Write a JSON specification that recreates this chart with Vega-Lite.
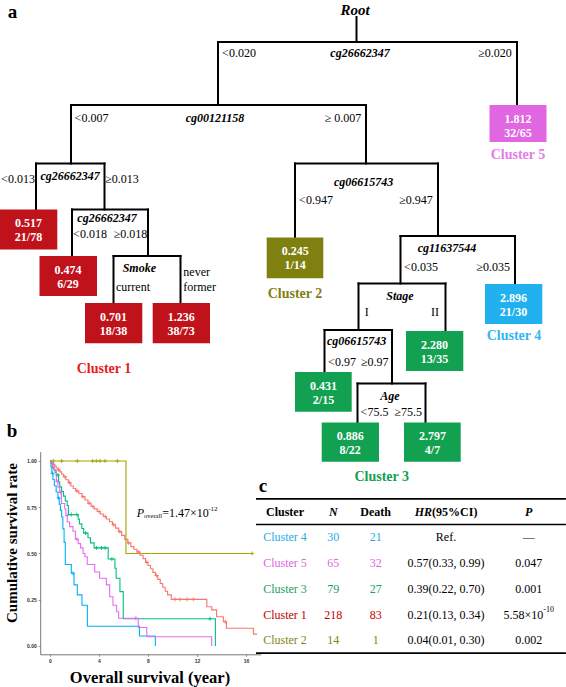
{
  "$schema": "https://vega.github.io/schema/vega-lite/v6.json",
  "width": 566,
  "height": 687,
  "autosize": {"type": "none"},
  "padding": 0,
  "background": "white",
  "config": {"view": {"stroke": null}, "font": "Liberation Serif"},
  "datasets": {
    "edges": [
      {"x": 356.5, "y": 17, "x2": 356.5, "y2": 42},
      {"x": 218, "y": 42, "x2": 517, "y2": 42},
      {"x": 218, "y": 42, "x2": 218, "y2": 105},
      {"x": 517, "y": 42, "x2": 517, "y2": 105},
      {"x": 71, "y": 105, "x2": 366, "y2": 105},
      {"x": 71, "y": 105, "x2": 71, "y2": 163.5},
      {"x": 366, "y": 105, "x2": 366, "y2": 163.5},
      {"x": 36, "y": 163.5, "x2": 104.5, "y2": 163.5},
      {"x": 36, "y": 163.5, "x2": 36, "y2": 209.5},
      {"x": 104.5, "y": 163.5, "x2": 104.5, "y2": 209.5},
      {"x": 72, "y": 209.5, "x2": 148, "y2": 209.5},
      {"x": 72, "y": 209.5, "x2": 72, "y2": 256},
      {"x": 148, "y": 209.5, "x2": 148, "y2": 256},
      {"x": 113.5, "y": 256, "x2": 180.5, "y2": 256},
      {"x": 113.5, "y": 256, "x2": 113.5, "y2": 303},
      {"x": 180.5, "y": 256, "x2": 180.5, "y2": 303},
      {"x": 295, "y": 163.5, "x2": 438, "y2": 163.5},
      {"x": 295, "y": 163.5, "x2": 295, "y2": 237.5},
      {"x": 438, "y": 163.5, "x2": 438, "y2": 236},
      {"x": 400.5, "y": 236, "x2": 515, "y2": 236},
      {"x": 400.5, "y": 236, "x2": 400.5, "y2": 283.5},
      {"x": 515, "y": 236, "x2": 515, "y2": 284},
      {"x": 358.5, "y": 283.5, "x2": 445.5, "y2": 283.5},
      {"x": 358.5, "y": 283.5, "x2": 358.5, "y2": 330},
      {"x": 445.5, "y": 283.5, "x2": 445.5, "y2": 331},
      {"x": 324.5, "y": 330, "x2": 392, "y2": 330},
      {"x": 324.5, "y": 330, "x2": 324.5, "y2": 372},
      {"x": 392, "y": 330, "x2": 392, "y2": 383.5},
      {"x": 357.5, "y": 383.5, "x2": 425.5, "y2": 383.5},
      {"x": 357.5, "y": 383.5, "x2": 357.5, "y2": 422.5},
      {"x": 425.5, "y": 383.5, "x2": 425.5, "y2": 422.5}
    ],
    "boxes": [
      {"cluster": "Cluster 5", "hr": "1.812", "ratio": "32/65", "x": 489.5, "y": 105, "x2": 546.5, "y2": 142},
      {"cluster": "Cluster 1", "hr": "0.517", "ratio": "21/78", "x": 0, "y": 209.5, "x2": 57.3, "y2": 249.5},
      {"cluster": "Cluster 1", "hr": "0.474", "ratio": "6/29", "x": 39.5, "y": 256, "x2": 97, "y2": 296},
      {"cluster": "Cluster 1", "hr": "0.701", "ratio": "18/38", "x": 85, "y": 303, "x2": 142.3, "y2": 343.3},
      {"cluster": "Cluster 1", "hr": "1.236", "ratio": "38/73", "x": 152.7, "y": 303, "x2": 210, "y2": 343.3},
      {"cluster": "Cluster 2", "hr": "0.245", "ratio": "1/14", "x": 266.7, "y": 237.5, "x2": 323.3, "y2": 278.3},
      {"cluster": "Cluster 4", "hr": "2.896", "ratio": "21/30", "x": 485, "y": 284, "x2": 542.3, "y2": 324},
      {"cluster": "Cluster 3", "hr": "2.280", "ratio": "13/35", "x": 406, "y": 331, "x2": 463.3, "y2": 371},
      {"cluster": "Cluster 3", "hr": "0.431", "ratio": "2/15", "x": 295, "y": 372, "x2": 351.7, "y2": 411.7},
      {"cluster": "Cluster 3", "hr": "0.886", "ratio": "8/22", "x": 321.7, "y": 422.5, "x2": 379, "y2": 461.7},
      {"cluster": "Cluster 3", "hr": "2.797", "ratio": "4/7", "x": 404, "y": 422.5, "x2": 460.7, "y2": 461.7}
    ],
    "nodes": [
      {"label": "Root", "x": 355, "y": 9.5},
      {"label": "cg26662347", "x": 360, "y": 52.7},
      {"label": "cg00121158", "x": 215, "y": 117.5},
      {"label": "cg26662347", "x": 70.2, "y": 175.7},
      {"label": "cg26662347", "x": 107, "y": 218.3},
      {"label": "Smoke", "x": 139.3, "y": 268.3},
      {"label": "cg06615743", "x": 363.6, "y": 181.7},
      {"label": "cg11637544", "x": 447, "y": 248.3},
      {"label": "Stage", "x": 400, "y": 295.7},
      {"label": "cg06615743", "x": 356.7, "y": 341},
      {"label": "Age", "x": 390, "y": 396}
    ],
    "splits": [
      {"label": "<0.020", "x": 239, "y": 52.7},
      {"label": "≥0.020", "x": 495, "y": 52.7},
      {"label": "<0.007", "x": 91.5, "y": 117.5},
      {"label": "≥ 0.007", "x": 343, "y": 117.5},
      {"label": "<0.013", "x": 18, "y": 179.3},
      {"label": "≥0.013", "x": 122, "y": 179.3},
      {"label": "<0.018", "x": 90, "y": 234},
      {"label": "≥0.018", "x": 130.5, "y": 234},
      {"label": "current", "x": 133, "y": 286.7},
      {"label": "never", "x": 196.7, "y": 272.3},
      {"label": "former", "x": 199.6, "y": 286.7},
      {"label": "<0.947", "x": 316, "y": 200},
      {"label": "≥0.947", "x": 416, "y": 200},
      {"label": "<0.035", "x": 421, "y": 267.3},
      {"label": "≥0.035", "x": 493.3, "y": 267.3},
      {"label": "I", "x": 366.7, "y": 311.7},
      {"label": "II", "x": 435, "y": 311.7},
      {"label": "<0.97", "x": 342, "y": 361.7},
      {"label": "≥0.97", "x": 374.7, "y": 361.7},
      {"label": "<75.5", "x": 374.5, "y": 412.3},
      {"label": "≥75.5", "x": 408.3, "y": 412.3}
    ],
    "clusterLabels": [
      {"cluster": "Cluster 1", "x": 104, "y": 369.3},
      {"cluster": "Cluster 2", "x": 295, "y": 293.8},
      {"cluster": "Cluster 3", "x": 381.7, "y": 477},
      {"cluster": "Cluster 4", "x": 514, "y": 336},
      {"cluster": "Cluster 5", "x": 518, "y": 155}
    ],
    "panels": [
      {"label": "a", "x": 12.6, "y": 17.5},
      {"label": "b", "x": 12, "y": 436.5},
      {"label": "c", "x": 263, "y": 491.5}
    ],
    "axisTitles": [
      {"label": "Cumulative survival rate", "x": 12, "y": 543},
      {"label": "Overall survival (year)", "x": 150, "y": 678}
    ],
    "kmCurves": [
      {"cluster": "Cluster 2", "t": 0, "s": 1},
      {"cluster": "Cluster 2", "t": 6.2, "s": 0.5},
      {"cluster": "Cluster 2", "t": 16.5, "s": 0.5},

      {"cluster": "Cluster 1", "t": 0, "s": 1},
      {"cluster": "Cluster 1", "t": 0.1, "s": 0.991},
      {"cluster": "Cluster 1", "t": 0.2, "s": 0.982},
      {"cluster": "Cluster 1", "t": 0.35, "s": 0.972},
      {"cluster": "Cluster 1", "t": 0.5, "s": 0.962},
      {"cluster": "Cluster 1", "t": 0.65, "s": 0.952},
      {"cluster": "Cluster 1", "t": 0.8, "s": 0.941},
      {"cluster": "Cluster 1", "t": 0.95, "s": 0.928},
      {"cluster": "Cluster 1", "t": 1.1, "s": 0.915},
      {"cluster": "Cluster 1", "t": 1.3, "s": 0.898},
      {"cluster": "Cluster 1", "t": 1.5, "s": 0.882},
      {"cluster": "Cluster 1", "t": 1.7, "s": 0.865},
      {"cluster": "Cluster 1", "t": 1.9, "s": 0.851},
      {"cluster": "Cluster 1", "t": 2.1, "s": 0.838},
      {"cluster": "Cluster 1", "t": 2.35, "s": 0.824},
      {"cluster": "Cluster 1", "t": 2.6, "s": 0.807},
      {"cluster": "Cluster 1", "t": 2.85, "s": 0.789},
      {"cluster": "Cluster 1", "t": 3.1, "s": 0.771},
      {"cluster": "Cluster 1", "t": 3.35, "s": 0.754},
      {"cluster": "Cluster 1", "t": 3.6, "s": 0.741},
      {"cluster": "Cluster 1", "t": 3.85, "s": 0.727},
      {"cluster": "Cluster 1", "t": 4.1, "s": 0.713},
      {"cluster": "Cluster 1", "t": 4.35, "s": 0.7},
      {"cluster": "Cluster 1", "t": 4.6, "s": 0.686},
      {"cluster": "Cluster 1", "t": 4.85, "s": 0.671},
      {"cluster": "Cluster 1", "t": 5.1, "s": 0.655},
      {"cluster": "Cluster 1", "t": 5.35, "s": 0.637},
      {"cluster": "Cluster 1", "t": 5.6, "s": 0.618},
      {"cluster": "Cluster 1", "t": 5.85, "s": 0.598},
      {"cluster": "Cluster 1", "t": 6.1, "s": 0.576},
      {"cluster": "Cluster 1", "t": 6.35, "s": 0.557},
      {"cluster": "Cluster 1", "t": 6.6, "s": 0.537},
      {"cluster": "Cluster 1", "t": 6.85, "s": 0.523},
      {"cluster": "Cluster 1", "t": 7.1, "s": 0.508},
      {"cluster": "Cluster 1", "t": 7.35, "s": 0.49},
      {"cluster": "Cluster 1", "t": 7.6, "s": 0.472},
      {"cluster": "Cluster 1", "t": 7.8, "s": 0.452},
      {"cluster": "Cluster 1", "t": 8.0, "s": 0.435},
      {"cluster": "Cluster 1", "t": 8.2, "s": 0.417},
      {"cluster": "Cluster 1", "t": 8.4, "s": 0.398},
      {"cluster": "Cluster 1", "t": 8.6, "s": 0.381},
      {"cluster": "Cluster 1", "t": 8.8, "s": 0.36},
      {"cluster": "Cluster 1", "t": 9.0, "s": 0.338},
      {"cluster": "Cluster 1", "t": 9.2, "s": 0.317},
      {"cluster": "Cluster 1", "t": 9.4, "s": 0.296},
      {"cluster": "Cluster 1", "t": 9.6, "s": 0.276},
      {"cluster": "Cluster 1", "t": 9.9, "s": 0.252},
      {"cluster": "Cluster 1", "t": 12.8, "s": 0.212},
      {"cluster": "Cluster 1", "t": 13.2, "s": 0.195},
      {"cluster": "Cluster 1", "t": 13.6, "s": 0.158},
      {"cluster": "Cluster 1", "t": 14.15, "s": 0.131},
      {"cluster": "Cluster 1", "t": 14.4, "s": 0.096},
      {"cluster": "Cluster 1", "t": 16.6, "s": 0.064},
      {"cluster": "Cluster 1", "t": 16.9, "s": 0.064},

      {"cluster": "Cluster 3", "t": 0, "s": 1},
      {"cluster": "Cluster 3", "t": 0.1, "s": 0.987},
      {"cluster": "Cluster 3", "t": 0.2, "s": 0.962},
      {"cluster": "Cluster 3", "t": 0.35, "s": 0.949},
      {"cluster": "Cluster 3", "t": 0.5, "s": 0.924},
      {"cluster": "Cluster 3", "t": 0.7, "s": 0.886},
      {"cluster": "Cluster 3", "t": 0.8, "s": 0.86},
      {"cluster": "Cluster 3", "t": 0.95, "s": 0.835},
      {"cluster": "Cluster 3", "t": 1.1, "s": 0.81},
      {"cluster": "Cluster 3", "t": 1.25, "s": 0.784},
      {"cluster": "Cluster 3", "t": 1.4, "s": 0.759},
      {"cluster": "Cluster 3", "t": 1.5, "s": 0.71},
      {"cluster": "Cluster 3", "t": 2.3, "s": 0.685},
      {"cluster": "Cluster 3", "t": 2.4, "s": 0.66},
      {"cluster": "Cluster 3", "t": 2.6, "s": 0.635},
      {"cluster": "Cluster 3", "t": 2.75, "s": 0.61},
      {"cluster": "Cluster 3", "t": 3.1, "s": 0.585},
      {"cluster": "Cluster 3", "t": 3.3, "s": 0.557},
      {"cluster": "Cluster 3", "t": 3.6, "s": 0.53},
      {"cluster": "Cluster 3", "t": 4.75, "s": 0.47},
      {"cluster": "Cluster 3", "t": 5.3, "s": 0.42},
      {"cluster": "Cluster 3", "t": 5.4, "s": 0.366},
      {"cluster": "Cluster 3", "t": 5.71, "s": 0.294},
      {"cluster": "Cluster 3", "t": 5.98, "s": 0.147},
      {"cluster": "Cluster 3", "t": 13.5, "s": 0},

      {"cluster": "Cluster 4", "t": 0, "s": 1},
      {"cluster": "Cluster 4", "t": 0.08, "s": 0.967},
      {"cluster": "Cluster 4", "t": 0.15, "s": 0.933},
      {"cluster": "Cluster 4", "t": 0.24, "s": 0.9},
      {"cluster": "Cluster 4", "t": 0.35, "s": 0.866},
      {"cluster": "Cluster 4", "t": 0.5, "s": 0.832},
      {"cluster": "Cluster 4", "t": 0.65, "s": 0.8},
      {"cluster": "Cluster 4", "t": 0.75, "s": 0.766},
      {"cluster": "Cluster 4", "t": 0.85, "s": 0.733},
      {"cluster": "Cluster 4", "t": 0.95, "s": 0.697},
      {"cluster": "Cluster 4", "t": 1.05, "s": 0.633},
      {"cluster": "Cluster 4", "t": 1.15, "s": 0.56},
      {"cluster": "Cluster 4", "t": 1.25, "s": 0.44},
      {"cluster": "Cluster 4", "t": 1.74, "s": 0.393},
      {"cluster": "Cluster 4", "t": 1.96, "s": 0.33},
      {"cluster": "Cluster 4", "t": 2.23, "s": 0.276},
      {"cluster": "Cluster 4", "t": 2.61, "s": 0.22},
      {"cluster": "Cluster 4", "t": 3.05, "s": 0.107},
      {"cluster": "Cluster 4", "t": 7.3, "s": 0.054},
      {"cluster": "Cluster 4", "t": 8.6, "s": 0},

      {"cluster": "Cluster 5", "t": 0, "s": 1},
      {"cluster": "Cluster 5", "t": 0.1, "s": 0.985},
      {"cluster": "Cluster 5", "t": 0.2, "s": 0.969},
      {"cluster": "Cluster 5", "t": 0.3, "s": 0.954},
      {"cluster": "Cluster 5", "t": 0.4, "s": 0.938},
      {"cluster": "Cluster 5", "t": 0.52, "s": 0.889},
      {"cluster": "Cluster 5", "t": 0.65, "s": 0.858},
      {"cluster": "Cluster 5", "t": 0.79, "s": 0.83},
      {"cluster": "Cluster 5", "t": 0.93, "s": 0.77},
      {"cluster": "Cluster 5", "t": 1.2, "s": 0.74},
      {"cluster": "Cluster 5", "t": 1.3, "s": 0.705},
      {"cluster": "Cluster 5", "t": 1.41, "s": 0.67},
      {"cluster": "Cluster 5", "t": 1.6, "s": 0.645},
      {"cluster": "Cluster 5", "t": 1.88, "s": 0.62},
      {"cluster": "Cluster 5", "t": 2.07, "s": 0.577},
      {"cluster": "Cluster 5", "t": 2.3, "s": 0.553},
      {"cluster": "Cluster 5", "t": 2.5, "s": 0.53},
      {"cluster": "Cluster 5", "t": 2.7, "s": 0.5},
      {"cluster": "Cluster 5", "t": 2.85, "s": 0.482},
      {"cluster": "Cluster 5", "t": 3.04, "s": 0.44},
      {"cluster": "Cluster 5", "t": 3.65, "s": 0.4},
      {"cluster": "Cluster 5", "t": 4.05, "s": 0.366},
      {"cluster": "Cluster 5", "t": 4.6, "s": 0.33},
      {"cluster": "Cluster 5", "t": 4.87, "s": 0.266},
      {"cluster": "Cluster 5", "t": 5.14, "s": 0.22},
      {"cluster": "Cluster 5", "t": 5.44, "s": 0.185},
      {"cluster": "Cluster 5", "t": 5.6, "s": 0.15},
      {"cluster": "Cluster 5", "t": 7.2, "s": 0.1},
      {"cluster": "Cluster 5", "t": 7.9, "s": 0.05},
      {"cluster": "Cluster 5", "t": 13.2, "s": 0}
    ],
    "kmCensor": [
      {"cluster": "Cluster 2", "t": 0.27, "s": 1},
      {"cluster": "Cluster 2", "t": 0.95, "s": 1},
      {"cluster": "Cluster 2", "t": 2.23, "s": 1},
      {"cluster": "Cluster 2", "t": 3.48, "s": 1},
      {"cluster": "Cluster 2", "t": 3.78, "s": 1},
      {"cluster": "Cluster 2", "t": 4.08, "s": 1},
      {"cluster": "Cluster 2", "t": 4.49, "s": 1},
      {"cluster": "Cluster 2", "t": 5.5, "s": 1},
      {"cluster": "Cluster 2", "t": 16.5, "s": 0.5},
      {"cluster": "Cluster 1", "t": 0.3, "s": 0.982},
      {"cluster": "Cluster 1", "t": 0.7, "s": 0.952},
      {"cluster": "Cluster 1", "t": 1.2, "s": 0.915},
      {"cluster": "Cluster 1", "t": 1.6, "s": 0.882},
      {"cluster": "Cluster 1", "t": 2.2, "s": 0.838},
      {"cluster": "Cluster 1", "t": 2.7, "s": 0.807},
      {"cluster": "Cluster 1", "t": 3.2, "s": 0.771},
      {"cluster": "Cluster 1", "t": 3.5, "s": 0.754},
      {"cluster": "Cluster 1", "t": 4.0, "s": 0.727},
      {"cluster": "Cluster 1", "t": 4.5, "s": 0.7},
      {"cluster": "Cluster 1", "t": 5.2, "s": 0.655},
      {"cluster": "Cluster 1", "t": 5.7, "s": 0.618},
      {"cluster": "Cluster 1", "t": 6.4, "s": 0.557},
      {"cluster": "Cluster 1", "t": 7.2, "s": 0.508},
      {"cluster": "Cluster 1", "t": 7.9, "s": 0.452},
      {"cluster": "Cluster 1", "t": 8.7, "s": 0.381},
      {"cluster": "Cluster 1", "t": 10.2, "s": 0.252},
      {"cluster": "Cluster 1", "t": 10.6, "s": 0.252},
      {"cluster": "Cluster 1", "t": 11.2, "s": 0.252},
      {"cluster": "Cluster 1", "t": 11.7, "s": 0.252},
      {"cluster": "Cluster 1", "t": 14.3, "s": 0.131},
      {"cluster": "Cluster 3", "t": 0.65, "s": 0.924},
      {"cluster": "Cluster 3", "t": 1.74, "s": 0.71},
      {"cluster": "Cluster 3", "t": 2.2, "s": 0.71},
      {"cluster": "Cluster 3", "t": 2.9, "s": 0.61},
      {"cluster": "Cluster 3", "t": 3.8, "s": 0.53},
      {"cluster": "Cluster 3", "t": 4.2, "s": 0.53},
      {"cluster": "Cluster 3", "t": 4.5, "s": 0.53},
      {"cluster": "Cluster 3", "t": 5.05, "s": 0.47},
      {"cluster": "Cluster 3", "t": 13.06, "s": 0.147},
      {"cluster": "Cluster 4", "t": 0.2, "s": 0.933},
      {"cluster": "Cluster 4", "t": 0.7, "s": 0.8},
      {"cluster": "Cluster 4", "t": 1.88, "s": 0.393},
      {"cluster": "Cluster 5", "t": 0.6, "s": 0.889},
      {"cluster": "Cluster 5", "t": 0.85, "s": 0.83},
      {"cluster": "Cluster 5", "t": 1.41, "s": 0.705},
      {"cluster": "Cluster 5", "t": 2.2, "s": 0.577},
      {"cluster": "Cluster 5", "t": 7.0, "s": 0.15}
    ],
    "kmNote": [
      {"t": 7.08, "s": 0.717, "p": "P", "sub": "overall", "val": "=1.47×10", "exp": "-12"}
    ],
    "table": [
      {"cluster": "Cluster 4", "N": 30, "Death": 21, "HR": "Ref.", "P": "—", "Pexp": "", "rank": 1},
      {"cluster": "Cluster 5", "N": 65, "Death": 32, "HR": "0.57(0.33, 0.99)", "P": "0.047", "Pexp": "", "rank": 2},
      {"cluster": "Cluster 3", "N": 79, "Death": 27, "HR": "0.39(0.22, 0.70)", "P": "0.001", "Pexp": "", "rank": 3},
      {"cluster": "Cluster 1", "N": 218, "Death": 83, "HR": "0.21(0.13, 0.34)", "P": "5.58×10", "Pexp": "-10", "rank": 4},
      {"cluster": "Cluster 2", "N": 14, "Death": 1, "HR": "0.04(0.01, 0.30)", "P": "0.002", "Pexp": "", "rank": 5}
    ],
    "header": [
      {"label": "Cluster", "pos": 0, "rank": 0},
      {"label": "N", "pos": 1, "rank": 0},
      {"label": "Death", "pos": 2, "rank": 0},
      {"label": "HR", "pos": 3, "rank": 0},
      {"label": "(95%CI)", "pos": 3, "rank": 0},
      {"label": "P", "pos": 4, "rank": 0}
    ],
    "tableRules": [{"rank": -0.5}, {"rank": 0.5}, {"rank": 5.5}]
  },
  "layer": [
    {
      "encoding": {
        "x": {"field": "x", "type": "quantitative", "scale": {"domain": [0, 566], "range": [0, 566], "nice": false, "zero": false}, "axis": null},
        "y": {"field": "y", "type": "quantitative", "scale": {"domain": [0, 687], "range": [0, 687], "nice": false, "zero": false}, "axis": null}
      },
      "layer": [
        {"data": {"name": "edges"}, "mark": {"type": "rule", "color": "black", "strokeWidth": 2, "strokeCap": "square"},
         "encoding": {"x2": {"field": "x2"}, "y2": {"field": "y2"}}},
        {"data": {"name": "boxes"}, "mark": {"type": "rect"},
         "encoding": {"x2": {"field": "x2"}, "y2": {"field": "y2"},
           "fill": {"field": "cluster", "type": "nominal", "legend": null,
             "scale": {"domain": ["Cluster 1", "Cluster 2", "Cluster 3", "Cluster 4", "Cluster 5"], "range": ["#C0121B", "#808010", "#12A150", "#21B1EE", "#E066E2"]}}}},
        {"data": {"name": "boxes"}, "mark": {"type": "text", "font": "Liberation Serif", "fontSize": 12, "fontWeight": "bold", "color": "white", "dx": 28.5, "dy": 13.5},
         "encoding": {"text": {"field": "hr"}}},
        {"data": {"name": "boxes"}, "mark": {"type": "text", "font": "Liberation Serif", "fontSize": 12, "fontWeight": "bold", "color": "white", "dx": 28.5, "dy": 27.5},
         "encoding": {"text": {"field": "ratio"}}},
        {"data": {"name": "nodes"}, "transform": [{"filter": "datum.label !== 'Root'"}],
         "mark": {"type": "text", "font": "Liberation Serif", "fontSize": 12, "fontWeight": "bold", "fontStyle": "italic", "color": "black"},
         "encoding": {"text": {"field": "label"}}},
        {"data": {"name": "nodes"}, "transform": [{"filter": "datum.label === 'Root'"}],
         "mark": {"type": "text", "font": "Liberation Serif", "fontSize": 15, "fontWeight": "bold", "fontStyle": "italic", "color": "black"},
         "encoding": {"text": {"field": "label"}}},
        {"data": {"name": "splits"}, "mark": {"type": "text", "font": "Liberation Serif", "fontSize": 12, "color": "black"},
         "encoding": {"text": {"field": "label"}}},
        {"data": {"name": "clusterLabels"}, "mark": {"type": "text", "font": "Liberation Serif", "fontSize": 14, "fontWeight": "bold"},
         "encoding": {"text": {"field": "cluster"},
           "color": {"field": "cluster", "type": "nominal", "legend": null,
             "scale": {"domain": ["Cluster 1", "Cluster 2", "Cluster 3", "Cluster 4", "Cluster 5"], "range": ["#E81C1C", "#808010", "#12A150", "#35B5F0", "#E57BE6"]}}}},
        {"data": {"name": "panels"}, "mark": {"type": "text", "font": "Liberation Serif", "fontSize": 19, "fontWeight": "bold", "baseline": "alphabetic", "color": "black"},
         "encoding": {"text": {"field": "label"}}},
        {"data": {"name": "axisTitles"}, "transform": [{"filter": "datum.label === 'Cumulative survival rate'"}],
         "mark": {"type": "text", "font": "Liberation Serif", "fontSize": 15, "fontWeight": "bold", "angle": 270, "color": "black"},
         "encoding": {"text": {"field": "label"}}},
        {"data": {"name": "axisTitles"}, "transform": [{"filter": "datum.label === 'Overall survival (year)'"}],
         "mark": {"type": "text", "font": "Liberation Serif", "fontSize": 16.5, "fontWeight": "bold", "color": "black"},
         "encoding": {"text": {"field": "label"}}}
      ]
    },
    {
      "encoding": {
        "x": {"field": "t", "type": "quantitative",
          "scale": {"domain": [-0.8, 17.2], "range": [40.2, 260.7], "nice": false, "zero": false},
          "axis": {"orient": "bottom", "offset": -32.7, "values": [0, 4, 8, 12, 16], "title": null, "grid": false,
            "domainColor": "#555", "domainWidth": 0.8, "tickColor": "#555", "tickWidth": 0.6, "tickSize": 2,
            "labelFont": "Liberation Sans", "labelFontSize": 5, "labelFontWeight": "bold", "labelPadding": 2, "labelColor": "#333",
            "labelFlush": false, "labelOverlap": false}},
        "y": {"field": "s", "type": "quantitative",
          "scale": {"domain": [-0.045, 1.05], "range": [654.3, 451.7], "nice": false, "zero": false},
          "axis": {"orient": "left", "offset": -40.2, "values": [0, 0.25, 0.5, 0.75, 1], "format": ".2f", "title": null, "grid": false,
            "domainColor": "#555", "domainWidth": 0.8, "tickColor": "#555", "tickWidth": 0.6, "tickSize": 2,
            "labelFont": "Liberation Sans", "labelFontSize": 5, "labelFontWeight": "bold", "labelPadding": 2, "labelColor": "#333",
            "labelFlush": false, "labelOverlap": false}}
      },
      "layer": [
        {"data": {"name": "kmCurves"}, "mark": {"type": "line", "interpolate": "step-after", "strokeWidth": 1.1},
         "encoding": {"color": {"field": "cluster", "type": "nominal", "legend": null,
           "scale": {"domain": ["Cluster 1", "Cluster 2", "Cluster 3", "Cluster 4", "Cluster 5"], "range": ["#F8766D", "#A3A500", "#00BF7D", "#00B0F6", "#E76BF3"]}}}},
        {"data": {"name": "kmCensor"}, "mark": {"type": "point", "shape": "M-1,0H1M0,-1V1", "size": 16, "filled": false, "strokeWidth": 0.9, "opacity": 1},
         "encoding": {"color": {"field": "cluster", "type": "nominal", "legend": null,
           "scale": {"domain": ["Cluster 1", "Cluster 2", "Cluster 3", "Cluster 4", "Cluster 5"], "range": ["#F8766D", "#A3A500", "#00BF7D", "#00B0F6", "#E76BF3"]}}}},
        {"data": {"name": "kmNote"}, "mark": {"type": "text", "align": "left", "font": "Liberation Serif", "fontSize": 12, "fontStyle": "italic", "color": "black"},
         "encoding": {"text": {"field": "p"}}},
        {"data": {"name": "kmNote"}, "mark": {"type": "text", "align": "left", "font": "Liberation Serif", "fontSize": 6.5, "color": "black", "dx": 7.3, "dy": 3},
         "encoding": {"text": {"field": "sub"}}},
        {"data": {"name": "kmNote"}, "mark": {"type": "text", "align": "left", "font": "Liberation Serif", "fontSize": 12, "color": "black", "dx": 25.5},
         "encoding": {"text": {"field": "val"}}},
        {"data": {"name": "kmNote"}, "mark": {"type": "text", "align": "left", "font": "Liberation Serif", "fontSize": 7, "color": "black", "dx": 71.5, "dy": -4},
         "encoding": {"text": {"field": "exp"}}}
      ]
    },
    {
      "encoding": {
        "y": {"field": "rank", "type": "quantitative", "scale": {"domain": [0, 5], "range": [511.7, 640.3], "nice": false, "zero": false}, "axis": null}
      },
      "layer": [
        {"data": {"name": "tableRules"}, "mark": {"type": "rule", "color": "black", "strokeWidth": 1.6},
         "encoding": {"x": {"datum": -0.6, "type": "quantitative", "axis": null, "scale": {"domain": [0, 1, 2, 3, 4], "range": [285, 333.3, 375.7, 446, 528.7], "nice": false, "zero": false}},
           "x2": {"datum": 4.45}}},
        {"data": {"name": "header"}, "transform": [{"filter": {"field": "label", "oneOf": ["Cluster", "Death"]}}],
         "mark": {"type": "text", "font": "Liberation Serif", "fontSize": 12, "fontWeight": "bold", "color": "black"},
         "encoding": {"x": {"field": "pos", "type": "quantitative", "axis": null, "scale": {"domain": [0, 1, 2, 3, 4], "range": [285, 333.3, 375.7, 446, 528.7], "nice": false, "zero": false}},
           "text": {"field": "label"}}},
        {"data": {"name": "header"}, "transform": [{"filter": {"field": "label", "oneOf": ["N", "P"]}}],
         "mark": {"type": "text", "font": "Liberation Serif", "fontSize": 12, "fontWeight": "bold", "fontStyle": "italic", "color": "black"},
         "encoding": {"x": {"field": "pos", "type": "quantitative", "axis": null, "scale": {"domain": [0, 1, 2, 3, 4], "range": [285, 333.3, 375.7, 446, 528.7], "nice": false, "zero": false}},
           "text": {"field": "label"}}},
        {"data": {"name": "header"}, "transform": [{"filter": {"field": "label", "equal": "HR"}}],
         "mark": {"type": "text", "font": "Liberation Serif", "fontSize": 12, "fontWeight": "bold", "fontStyle": "italic", "color": "black", "dx": -22.6},
         "encoding": {"x": {"field": "pos", "type": "quantitative", "axis": null, "scale": {"domain": [0, 1, 2, 3, 4], "range": [285, 333.3, 375.7, 446, 528.7], "nice": false, "zero": false}},
           "text": {"field": "label"}}},
        {"data": {"name": "header"}, "transform": [{"filter": {"field": "label", "equal": "(95%CI)"}}],
         "mark": {"type": "text", "font": "Liberation Serif", "fontSize": 12, "fontWeight": "bold", "color": "black", "dx": 8.7},
         "encoding": {"x": {"field": "pos", "type": "quantitative", "axis": null, "scale": {"domain": [0, 1, 2, 3, 4], "range": [285, 333.3, 375.7, 446, 528.7], "nice": false, "zero": false}},
           "text": {"field": "label"}}},
        {"data": {"name": "table"}, "mark": {"type": "text", "font": "Liberation Serif", "fontSize": 12},
         "encoding": {"x": {"datum": 0, "type": "quantitative", "axis": null, "scale": {"domain": [0, 1, 2, 3, 4], "range": [285, 333.3, 375.7, 446, 528.7], "nice": false, "zero": false}},
           "text": {"field": "cluster"},
           "color": {"field": "cluster", "type": "nominal", "legend": null,
             "scale": {"domain": ["Cluster 1", "Cluster 2", "Cluster 3", "Cluster 4", "Cluster 5"], "range": ["#C00000", "#858515", "#18A35A", "#2AABE3", "#E067E0"]}}}},
        {"data": {"name": "table"}, "mark": {"type": "text", "font": "Liberation Serif", "fontSize": 12},
         "encoding": {"x": {"datum": 1, "type": "quantitative", "axis": null, "scale": {"domain": [0, 1, 2, 3, 4], "range": [285, 333.3, 375.7, 446, 528.7], "nice": false, "zero": false}},
           "text": {"field": "N"},
           "color": {"field": "cluster", "type": "nominal", "legend": null,
             "scale": {"domain": ["Cluster 1", "Cluster 2", "Cluster 3", "Cluster 4", "Cluster 5"], "range": ["#C00000", "#858515", "#18A35A", "#2AABE3", "#E067E0"]}}}},
        {"data": {"name": "table"}, "mark": {"type": "text", "font": "Liberation Serif", "fontSize": 12},
         "encoding": {"x": {"datum": 2, "type": "quantitative", "axis": null, "scale": {"domain": [0, 1, 2, 3, 4], "range": [285, 333.3, 375.7, 446, 528.7], "nice": false, "zero": false}},
           "text": {"field": "Death"},
           "color": {"field": "cluster", "type": "nominal", "legend": null,
             "scale": {"domain": ["Cluster 1", "Cluster 2", "Cluster 3", "Cluster 4", "Cluster 5"], "range": ["#C00000", "#858515", "#18A35A", "#2AABE3", "#E067E0"]}}}},
        {"data": {"name": "table"}, "mark": {"type": "text", "font": "Liberation Serif", "fontSize": 12, "color": "black"},
         "encoding": {"x": {"datum": 3, "type": "quantitative", "axis": null, "scale": {"domain": [0, 1, 2, 3, 4], "range": [285, 333.3, 375.7, 446, 528.7], "nice": false, "zero": false}},
           "text": {"field": "HR"}}},
        {"data": {"name": "table"}, "transform": [{"filter": "datum.Pexp === ''"}],
         "mark": {"type": "text", "font": "Liberation Serif", "fontSize": 12, "color": "black"},
         "encoding": {"x": {"datum": 4, "type": "quantitative", "axis": null, "scale": {"domain": [0, 1, 2, 3, 4], "range": [285, 333.3, 375.7, 446, 528.7], "nice": false, "zero": false}},
           "text": {"field": "P"}}},
        {"data": {"name": "table"}, "transform": [{"filter": "datum.Pexp !== ''"}],
         "mark": {"type": "text", "font": "Liberation Serif", "fontSize": 12, "color": "black", "dx": -5.4},
         "encoding": {"x": {"datum": 4, "type": "quantitative", "axis": null, "scale": {"domain": [0, 1, 2, 3, 4], "range": [285, 333.3, 375.7, 446, 528.7], "nice": false, "zero": false}},
           "text": {"field": "P"}}},
        {"data": {"name": "table"}, "transform": [{"filter": "datum.Pexp !== ''"}],
         "mark": {"type": "text", "font": "Liberation Serif", "fontSize": 8, "color": "black", "dx": 20, "dy": -4.5},
         "encoding": {"x": {"datum": 4, "type": "quantitative", "axis": null, "scale": {"domain": [0, 1, 2, 3, 4], "range": [285, 333.3, 375.7, 446, 528.7], "nice": false, "zero": false}},
           "text": {"field": "Pexp"}}}
      ]
    }
  ],
  "resolve": {
    "scale": {"x": "independent", "y": "independent", "color": "independent", "fill": "independent"},
    "axis": {"x": "independent", "y": "independent"}
  }
}
